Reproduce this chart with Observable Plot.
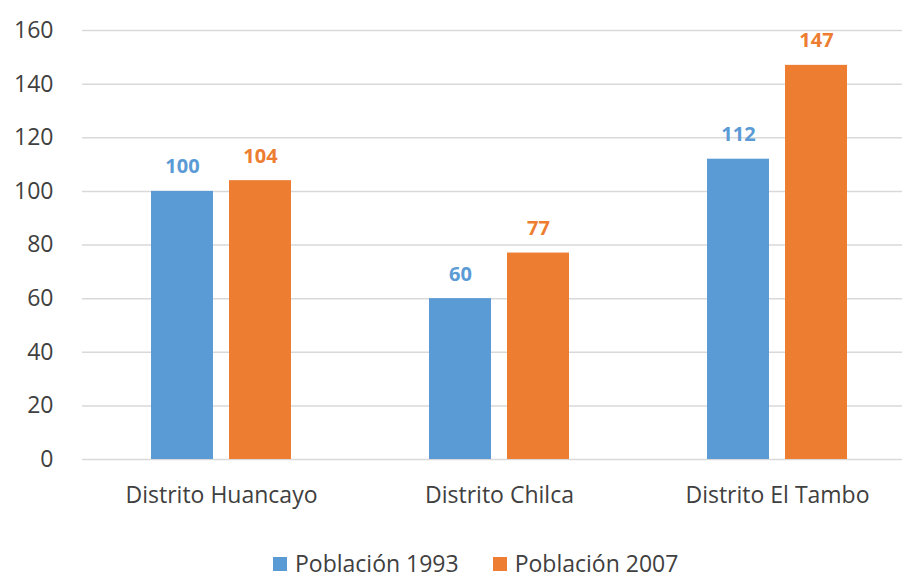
<!DOCTYPE html>
<html><head><meta charset="utf-8">
<script src="https://cdn.jsdelivr.net/npm/d3@7"></script>
<script src="https://cdn.jsdelivr.net/npm/@observablehq/plot@0.6"></script>
<style>
body{margin:0;background:#fff;overflow:hidden;}
#wrap{width:902px;overflow:hidden;background:#fff;}
#wrap svg{max-width:none !important;}
#leg{padding-left:273px;margin-top:7px;}
.lg-swatch{margin-right:34px !important;line-height:1 !important;}
.lg-swatch > svg{margin-right:8px !important;}
</style></head><body><div id="wrap"></div><div id="leg"></div>
<script>
const districts = ["Distrito Huancayo", "Distrito Chilca", "Distrito El Tambo"];
const series = ["Población 1993", "Población 2007"];
const pob1993 = [100, 60, 112];
const pob2007 = [104, 77, 147];
const yTicks = [0, 20, 40, 60, 80, 100, 120, 140, 160];
const colors = ["#5B9BD5", "#ED7D31"];

const rows = districts.flatMap((d, i) => [
  {district: d, serie: series[0], value: pob1993[i]},
  {district: d, serie: series[1], value: pob2007[i]}
]);

const chart = Plot.plot({
  width: 916, height: 540,
  marginLeft: 81, marginRight: 0, marginTop: 30, marginBottom: 81,
  style: {fontFamily: "'Open Sans', sans-serif", fontSize: "23px", color: "#404040", background: "#fff", maxWidth: "none"},
  fx: {domain: districts, padding: 0, label: null},
  x: {domain: series, axis: null, paddingInner: 0.21, paddingOuter: 0.87},
  y: {domain: [0, 160], label: null},
  color: {domain: series, range: colors},
  marks: [
    Plot.gridY(yTicks, {stroke: "#d9d9d9", strokeOpacity: 1, strokeWidth: 1.5}),
    Plot.axisY(yTicks, {tickSize: 0, tickPadding: 29, label: null, fill: "#404040"}),
    Plot.axisFx({anchor: "bottom", tickSize: 0, tickPadding: 27, label: null, fill: "#404040"}),
    Plot.barY(rows, {fx: "district", x: "serie", y: "value", fill: "serie"}),
    Plot.text(rows, {fx: "district", x: "serie", y: "value", text: d => String(d.value), fill: "serie",
      fontWeight: "bold", fontSize: 20, dy: -18, lineAnchor: "bottom"})
  ]
});
document.getElementById("wrap").appendChild(chart);

const legend = Plot.legend({
  color: {domain: series, range: colors},
  legend: "swatches", swatchSize: 14, className: "lg",
  style: {fontFamily: "'Open Sans', sans-serif", fontSize: "23px", color: "#404040"}
});
document.getElementById("leg").appendChild(legend);
</script></body></html>
